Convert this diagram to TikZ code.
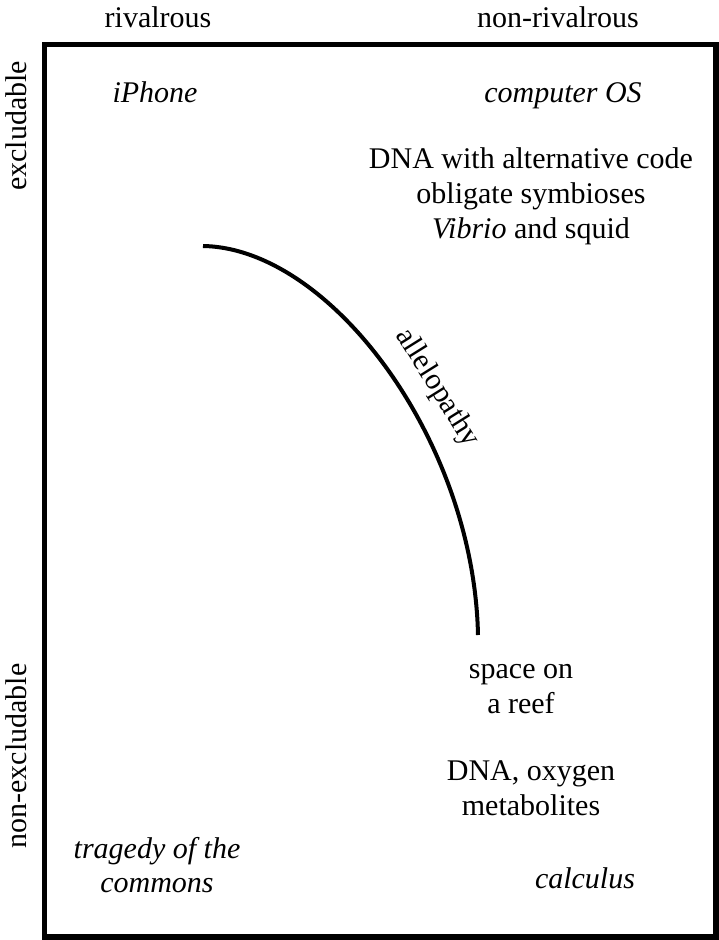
\documentclass[tikz,border=0pt]{standalone}
\usepackage{fontspec}
\setmainfont{Liberation Serif}
\begin{document}
\begin{tikzpicture}[x=1pt,y=-1pt,
  lbl/.style={font=\fontsize{30}{35}\selectfont, inner sep=0pt, anchor=base, align=center},
  itl/.style={lbl, font=\fontsize{30}{35}\selectfont\itshape}]
\useasboundingbox (0,0) rectangle (719,940);
\draw[line width=5.5pt] (44.7,44.7) rectangle (716,937);
% axis headings
\node[lbl] (riv) at (158,27) {rivalrous};
\node[lbl] (nonriv) at (558,27) {non-rivalrous};
\node[lbl, rotate=90] (excl) at (26,126) {excludable};
\node[lbl, rotate=90] (nonexcl) at (26,756) {non-excludable};
% quadrant entries
\node[itl] (iphone) at (155,102) {iPhone};
\node[itl] (os) at (563,102) {computer OS};
\node[lbl] (dna1) at (531,168) {DNA with alternative code};
\node[lbl] (symb) at (531,203) {obligate symbioses};
\node[lbl] (vibrio) at (531,238) {\textit{Vibrio} and squid};
\node[lbl] (space1) at (521,678) {space on};
\node[lbl] (space2) at (521,713) {a reef};
\node[lbl] (dna2) at (531,780) {DNA, oxygen};
\node[lbl] (metab) at (531,815) {metabolites};
\node[itl] (trag1) at (157,858) {tragedy of the};
\node[itl] (trag2) at (157,892) {commons};
\node[itl] (calc) at (585,888) {calculus};
% allelopathy curve
\coordinate (cs) at (203,246);
\coordinate (ce) at (478,635);
\draw[line width=4pt] (cs) .. controls (330,248) and (474,440) .. (ce);
\node[lbl, rotate=-58] (allel) at (431,392) {allelopathy};
\end{tikzpicture}
\end{document}
